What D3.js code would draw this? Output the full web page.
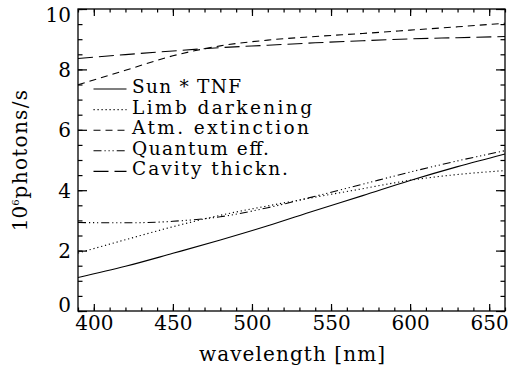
<!DOCTYPE html>
<html>
<head>
<meta charset="utf-8">
<title>photons vs wavelength</title>
<style>
  body { margin: 0; background: #fff; }
  svg { display: block; }
  text { font-family: 'DejaVu Serif', serif; fill: #000; }
</style>
<script src="https://d3js.org/d3.v7.min.js"></script>
</head>
<body>
<div id="chart"></div>
<script>
// ******* Data *******
const wavelengths = [390, 420, 450, 480, 510, 540, 570, 600, 630, 660];

const sunTnf      = [1.11, 1.48, 1.91, 2.35, 2.82, 3.33, 3.82, 4.32, 4.78, 5.20];
const limbDark    = [1.92, 2.36, 2.79, 3.17, 3.48, 3.77, 4.05, 4.33, 4.52, 4.65];
const atmExt      = [7.49, 7.97, 8.45, 8.78, 8.97, 9.09, 9.19, 9.30, 9.41, 9.53];
const quantumEff  = [2.93, 2.92, 2.97, 3.12, 3.42, 3.80, 4.20, 4.60, 4.97, 5.31];
const cavityThick = [8.36, 8.49, 8.61, 8.72, 8.80, 8.88, 8.95, 9.01, 9.05, 9.09];

const seriesNames = ["Sun * TNF", "Limb darkening", "Atm. extinction", "Quantum eff.", "Cavity thickn."];
const seriesValues = [sunTnf, limbDark, atmExt, quantumEff, cavityThick];

const xTicks = [400, 450, 500, 550, 600, 650];
const yTicks = [0, 2, 4, 6, 8, 10];

// ******* Layout *******
const width = 508, height = 374;
const pLeft = 78, pRight = 505, pTop = 9, pBottom = 311;
const dashes = ["none", "1.2,2.8", "7,5", "8,3,1.2,2.8,1.2,2.8,1.2,3", "15,6"];

const x = d3.scaleLinear().domain([390, 660]).range([pLeft, pRight]);
const y = d3.scaleLinear().domain([0, 10]).range([pBottom, pTop]);

const svg = d3.select("#chart").append("svg")
    .attr("width", width)
    .attr("height", height);

// ******* Curves *******
const line = d3.line()
    .x(function(d) { return x(d[0]); })
    .y(function(d) { return y(d[1]); })
    .curve(d3.curveMonotoneX);

seriesValues.forEach(function(vals, i) {
  svg.append("path")
      .datum(wavelengths.map(function(w, j) { return [w, vals[j]]; }))
      .attr("d", line)
      .attr("fill", "none")
      .attr("stroke", "#000")
      .attr("stroke-width", 1.1)
      .attr("stroke-dasharray", dashes[i]);
});

// ******* Axes (IDL style box, ticks inward) *******
function styleAxis(g) {
  g.select(".domain").remove();
  g.selectAll("line").attr("stroke", "#000").attr("stroke-width", 1.2);
  g.selectAll("text").attr("font-size", 20).attr("font-family", "'DejaVu Serif', serif");
}

const xMinor = d3.range(390, 661, 10);
const yMinor = d3.range(0, 10.01, 0.5);

// bottom
svg.append("g").attr("transform", "translate(0," + pBottom + ")")
    .call(d3.axisBottom(x).tickValues(xMinor).tickSize(-3.5).tickFormat(""))
    .call(styleAxis);
svg.append("g").attr("transform", "translate(0," + pBottom + ")")
    .call(d3.axisBottom(x).tickValues(xTicks).tickSize(-7).tickPadding(0).tickFormat(d3.format("d")))
    .call(styleAxis)
    .selectAll("text").attr("dy", "0.96em");
// top
svg.append("g").attr("transform", "translate(0," + pTop + ")")
    .call(d3.axisTop(x).tickValues(xMinor).tickSize(-3.5).tickFormat(""))
    .call(styleAxis);
svg.append("g").attr("transform", "translate(0," + pTop + ")")
    .call(d3.axisTop(x).tickValues(xTicks).tickSize(-7).tickFormat(""))
    .call(styleAxis);
// left
svg.append("g").attr("transform", "translate(" + pLeft + ",0)")
    .call(d3.axisLeft(y).tickValues(yMinor).tickSize(-4.5).tickFormat(""))
    .call(styleAxis);
const yAx = svg.append("g").attr("transform", "translate(" + pLeft + ",0)")
    .call(d3.axisLeft(y).tickValues(yTicks).tickSize(-9).tickPadding(7).tickFormat(d3.format("d")))
    .call(styleAxis);
// end labels sit a little inside the box
yAx.selectAll(".tick text")
    .attr("dy", function(d) { return d === 0 ? "0.02em" : d === 10 ? "0.62em" : "0.34em"; });
// right
svg.append("g").attr("transform", "translate(" + pRight + ",0)")
    .call(d3.axisRight(y).tickValues(yMinor).tickSize(-4.5).tickFormat(""))
    .call(styleAxis);
svg.append("g").attr("transform", "translate(" + pRight + ",0)")
    .call(d3.axisRight(y).tickValues(yTicks).tickSize(-9).tickFormat(""))
    .call(styleAxis);

// box
svg.append("rect")
    .attr("x", pLeft).attr("y", pTop)
    .attr("width", pRight - pLeft).attr("height", pBottom - pTop)
    .attr("fill", "none")
    .attr("stroke", "#000")
    .attr("stroke-width", 1.3);

// ******* Axis titles *******
svg.append("text")
    .attr("x", (pLeft + pRight) / 2 + 0.5)
    .attr("y", 361)
    .attr("text-anchor", "middle")
    .attr("font-size", 20)
    .attr("textLength", 186)
    .attr("lengthAdjust", "spacing")
    .text("wavelength [nm]");

const yt = svg.append("text")
    .attr("transform", "translate(27,160) rotate(-90)")
    .attr("text-anchor", "middle")
    .attr("font-size", 20);
yt.append("tspan").text("10");
yt.append("tspan").attr("font-size", 10).attr("dy", -8).text("6");
yt.append("tspan").attr("dy", 8).attr("dx", 1).attr("letter-spacing", 1.3).text("photons/s");

// ******* Legend *******
const legendW = [109, 180, 177, 137, 156];
const leg = svg.append("g");
seriesNames.forEach(function(name, i) {
  const ly = 89 + i * 20.6;
  leg.append("line")
      .attr("x1", 93.5).attr("x2", 126.5)
      .attr("y1", ly).attr("y2", ly)
      .attr("stroke", "#000")
      .attr("stroke-width", 1.1)
      .attr("stroke-dasharray", dashes[i]);
  leg.append("text")
      .attr("x", 132)
      .attr("y", ly + 4)
      .attr("font-size", 18.5)
      .attr("textLength", legendW[i])
      .attr("lengthAdjust", "spacing")
      .text(name);
});
</script>
</body>
</html>
